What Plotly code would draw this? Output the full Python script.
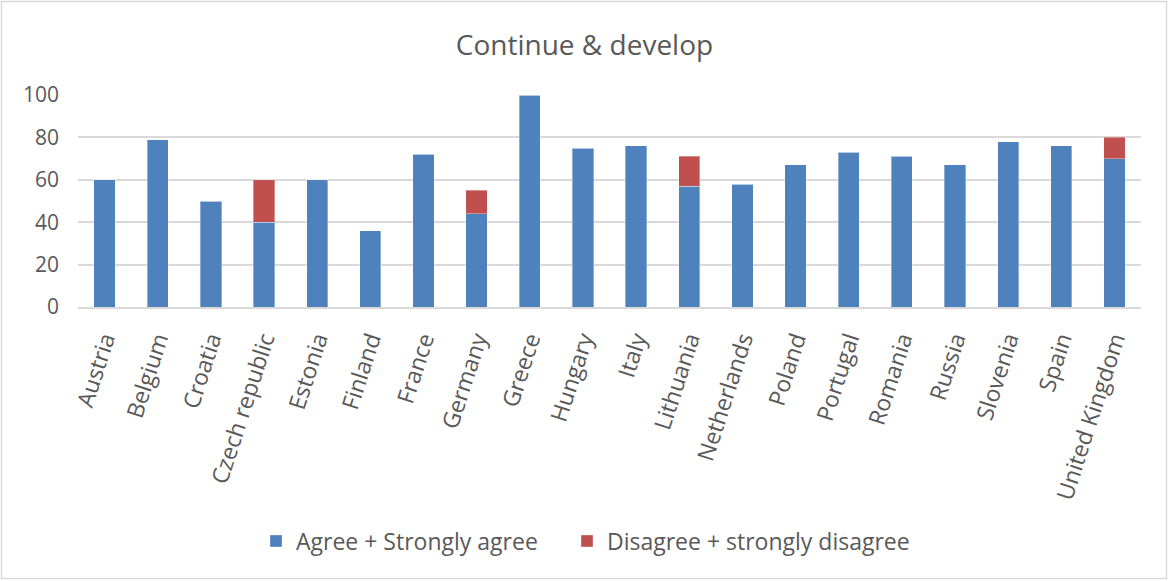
import plotly.graph_objects as go

countries = ["Austria", "Belgium", "Croatia", "Czech republic", "Estonia", "Finland",
             "France", "Germany", "Greece", "Hungary", "Italy", "Lithuania",
             "Netherlands", "Poland", "Portugal", "Romania", "Russia", "Slovenia",
             "Spain", "United Kingdom"]
agree = [60, 79, 50, 40, 60, 36, 72, 44, 100, 75, 76, 57, 58, 67, 73, 71, 67, 78, 76, 70]
disagree = [0, 0, 0, 20, 0, 0, 0, 11, 0, 0, 0, 14, 0, 0, 0, 0, 0, 0, 0, 10]
y_ticks = [0, 20, 40, 60, 80, 100]

W, H = 1169, 581
ML, MR, MT, MB = 78, 28, 95, 274
TEXT = "#595959"
GRID = "#D9D9D9"
FONT = "Open Sans, Noto Sans, sans-serif"

pw, ph = W - ML - MR, H - MT - MB

fig = go.Figure()
fig.add_bar(x=countries, y=agree, name="Agree + Strongly agree", legend="legend",
            marker=dict(color="#4F81BD", line=dict(color="rgba(255,255,255,0.35)", width=1)))
fig.add_bar(x=countries, y=disagree, name="Disagree + strongly disagree", legend="legend2",
            marker=dict(color="#C0504D", line=dict(color="rgba(255,255,255,0.35)", width=1)))

# outer chart frame
fig.add_shape(type="rect", xref="paper", yref="paper",
              x0=(1.5 - ML) / pw, x1=(W - 2.5 - ML) / pw,
              y0=-(H - 2.5 - MT - ph) / ph, y1=(MT - 1.5) / ph + 1,
              line=dict(color=GRID, width=1.5), fillcolor="rgba(0,0,0,0)", layer="below")

legend_style = dict(orientation="h", xanchor="left", y=(307 - 541) / ph, yanchor="middle",
                    font=dict(size=23, color=TEXT), itemwidth=30, bgcolor="rgba(0,0,0,0)")

fig.update_layout(
    width=W, height=H,
    margin=dict(l=ML, r=MR, t=MT, b=MB),
    barmode="stack", bargap=0.6,
    paper_bgcolor="white", plot_bgcolor="white",
    font=dict(family=FONT, color=TEXT, size=21),
    title=dict(text="Continue & develop", x=0.5, xref="container", xanchor="center",
               y=1 - 45 / H, yanchor="middle", font=dict(size=28, color=TEXT)),
    legend=dict(x=(256 - ML) / pw, **legend_style),
    legend2=dict(x=(567 - ML) / pw, **legend_style),
    showlegend=True,
)
fig.update_xaxes(tickangle=-72, showgrid=False, showline=True, linecolor=GRID, linewidth=2,
                 ticks="", ticklabelstandoff=8, tickfont=dict(size=23, color=TEXT))
fig.update_yaxes(range=[0, 100], tickvals=y_ticks, showgrid=True, gridcolor=GRID, gridwidth=2,
                 zeroline=False, showline=False, ticks="", ticklabelstandoff=18,
                 tickfont=dict(size=21, color=TEXT))

fig.write_html("out.html")
